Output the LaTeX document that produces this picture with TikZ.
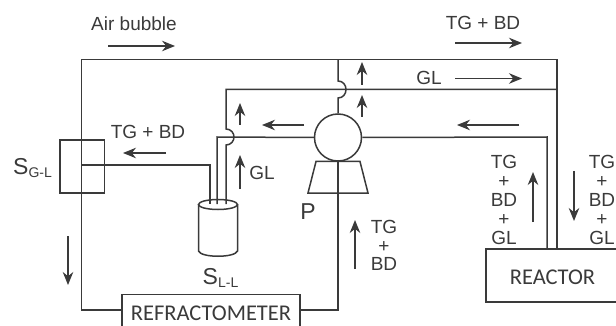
\documentclass[tikz,border=0pt]{standalone}
\usepackage{fontspec}
\setmainfont{Liberation Sans}
\newfontfamily\boxfont{Carlito}
\usetikzlibrary{arrows.meta}

\definecolor{linegray}{HTML}{3A3A3A}
\newcommand{\subtxt}[1]{{\fontsize{14}{14}\selectfont\raisebox{-3pt}{#1}}}

\tikzset{
  every node/.style={text=linegray,font=\fontsize{19}{21}\selectfont},
  pipe/.style={draw=linegray,line width=1.5pt},
  flowarrow/.style={draw=linegray,line width=1.5pt,-{Stealth[length=13pt,width=10.5pt]}},
  unitbox/.style={draw=linegray,line width=1.5pt,inner sep=0pt},
  stacklabel/.style={align=center,inner sep=0pt,font=\fontsize{19}{18.8}\selectfont},
  boxlabel/.style={font=\boxfont\fontsize{22.5}{24}\selectfont},
  unitname/.style={inner sep=0pt,font=\fontsize{23}{25}\selectfont}
}

\begin{document}
\begin{tikzpicture}[x=1pt,y=-1pt]
    \useasboundingbox (0,0) rectangle (616,326);

    % Units
    \node[unitbox,minimum width=44.5pt,minimum height=53pt] (sgl) at (82.2,166.5) {};
    \node[unitbox,minimum width=178pt,minimum height=40pt] (refr) at (211,314.5) {};
    \node[unitbox,minimum width=134pt,minimum height=53pt] (reactor) at (553,275.5) {};
    \node[unitbox,circle,minimum size=47pt] (pump) at (338,137.5) {};

    % Coordinates for the pipe ends
    \coordinate (tl) at (81.5,59.5);
    \coordinate (tr) at (557,59.5);
    \coordinate (gr) at (557,89.5);
    \coordinate (gl) at (226,89.5);
    \coordinate (rtop) at (547,137);
    \coordinate (rin) at (547,249);
    \coordinate (rout) at (557,249);

    % Outer loop
    \draw[pipe] (122,310) -- (81.5,310) -- (tl) -- (tr) -- (rout);
    \draw[pipe] (300,310) -- (338,310) -- (pump.south);
    \draw[pipe] (pump.north) -- (338,98) .. controls (343,98) and (346,94) .. (346,89.5)
        .. controls (346,85) and (343,81) .. (338,81) -- (338,59.5);

    % GL line with hop over the pump outlet
    \draw[pipe] (gr) -- (gl) -- (226,129) .. controls (231,129) and (234,133) .. (234,137)
        .. controls (234,141) and (231,145) .. (226,145) -- (226,204);
    \draw[pipe] (pump.west) -- (217,137) -- (217,204);
    \draw[pipe] (pump.east) -- (rtop) -- (rin);
    \draw[pipe] (81.5,165) -- (210,165) -- (210,204);

    % Pump base
    \draw[pipe] (316,161.5) -- (360,161.5) -- (368,193) -- (308,193) -- cycle;

    % Tank
    \draw[pipe] (218,204.5) ellipse (19.5 and 5);
    \draw[pipe] (198.5,204.5) -- (198.5,251) .. controls (201,258) and (235,258) .. (237.5,251) -- (237.5,204.5);

    % Arrows
    \draw[flowarrow] (108,46) -- (175,46);
    \draw[flowarrow] (455,43) -- (522,43);
    \draw[flowarrow] (455,78.5) -- (522,78.5);
    \draw[flowarrow] (519,125) -- (457,125);
    \draw[flowarrow] (304,125) -- (262,125);
    \draw[flowarrow] (166,153) -- (123,153);
    \draw[flowarrow] (68,236) -- (68,285);
    \draw[flowarrow] (240,189) -- (240,155);
    \draw[flowarrow] (240,125) -- (240,103);
    \draw[flowarrow] (362,117) -- (362,95);
    \draw[flowarrow] (362,85) -- (362,62);
    \draw[flowarrow] (355,269) -- (355,220);
    \draw[flowarrow] (533,222) -- (533,172);
    \draw[flowarrow] (574,171) -- (574,221);

    % Labels
    \node (airlabel) at (134,24) {Air bubble};
    \node (tgbdtop) at (483,23) {TG + BD};
    \node (gltop) at (429,78) {GL};
    \node (tgbdleft) at (148,132) {TG + BD};
    \node (glmid) at (262,173) {GL};
    \node[unitname,anchor=west] (sglname) at (13,168) {S\subtxt{G-L}};
    \node[unitname] (sllname) at (220.5,278) {S\subtxt{L-L}};
    \node[unitname] (pname) at (308,212) {P};
    \node[stacklabel] (tgbd) at (384,245.5) {TG\\+\\BD};
    \node[stacklabel] (mixin) at (504,200) {TG\\+\\BD\\+\\GL};
    \node[stacklabel] (mixout) at (602,200) {TG\\+\\BD\\+\\GL};
    \node[boxlabel] (refrname) at (211,313) {REFRACTOMETER};
    \node[boxlabel] (reactorname) at (552.5,277) {REACTOR};

\end{tikzpicture}
\end{document}
